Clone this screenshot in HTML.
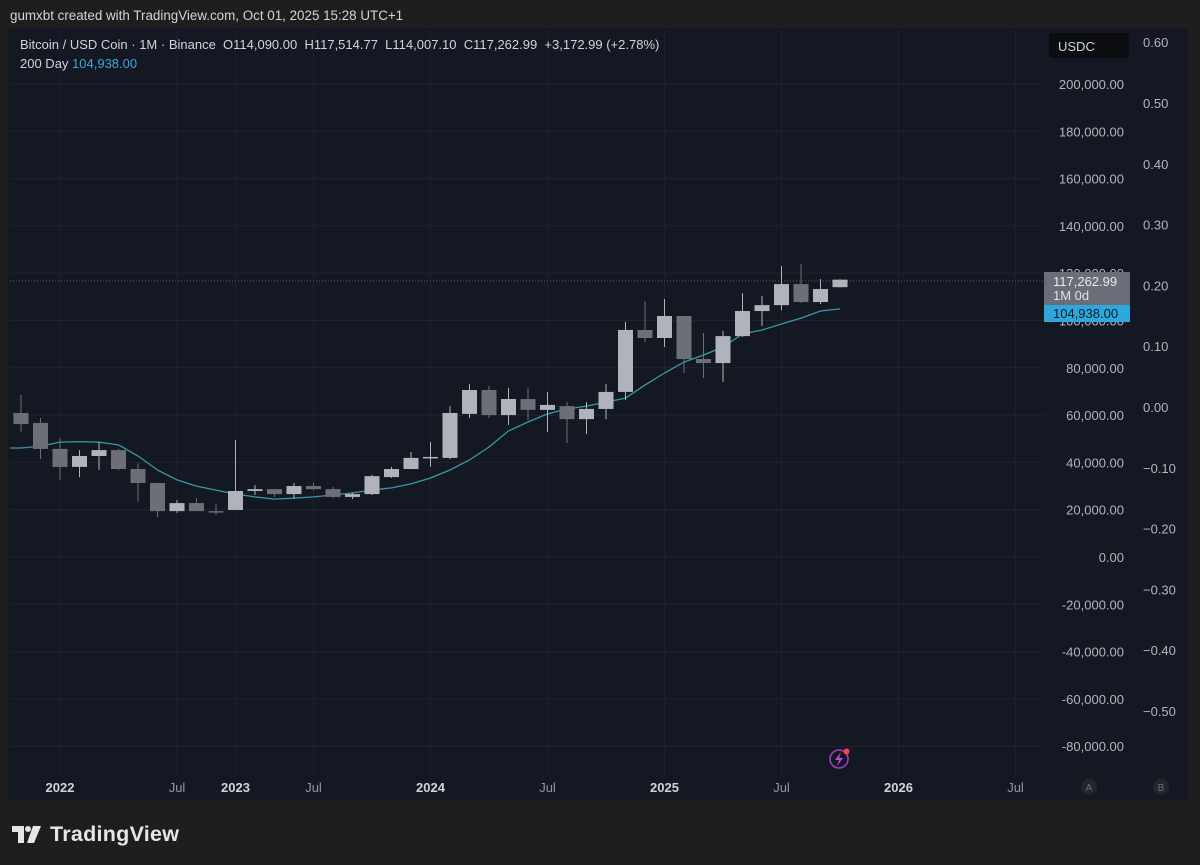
<!DOCTYPE html>
<html><head><meta charset="utf-8">
<style>
html,body{margin:0;padding:0;background:#1e1e1e;width:1200px;height:865px;overflow:hidden;font-family:"Liberation Sans",sans-serif;}
svg text{font-family:"Liberation Sans",sans-serif;}
</style></head>
<body>
<svg id="chart" width="1200" height="865" xmlns="http://www.w3.org/2000/svg">
<rect x="0" y="0" width="1200" height="865" fill="#1e1e1e"/>
<text x="10" y="20" fill="#d1d4dc" font-size="13.4">gumxbt created with TradingView.com, Oct 01, 2025 15:28 UTC+1</text>
<rect x="8" y="28" width="1180" height="772" fill="#141823"/>
<g id="grid"></g>
<line x1="10" x2="1044" y1="281" y2="281" stroke="#5d606b" stroke-dasharray="1,2"/>
<g id="ma"></g>
<g id="candles"></g>
<g id="yaxis"></g>
<g id="y2axis"></g>
<g id="xaxis"></g>
<text x="20" y="49" fill="#d1d4dc" font-size="13">Bitcoin / USD Coin · 1M · Binance&#160;&#160;O114,090.00&#160;&#160;H117,514.77&#160;&#160;L114,007.10&#160;&#160;C117,262.99&#160;&#160;+3,172.99 (+2.78%)</text>
<text x="20" y="68" fill="#d1d4dc" font-size="13">200 Day <tspan fill="#3aa6d4">104,938.00</tspan></text>
<rect x="1049" y="33" width="80" height="25" rx="3" fill="#0b0d11"/>
<text x="1058" y="51" fill="#d1d4dc" font-size="13">USDC</text>
<rect x="1044" y="272" width="86" height="33" fill="#6b6e78"/>
<text x="1053" y="286" fill="#e8e9ee" font-size="13">117,262.99</text>
<text x="1053" y="300" fill="#e0e1e6" font-size="13">1M 0d</text>
<rect x="1044" y="305" width="86" height="17" fill="#2ea7dd"/>
<text x="1053" y="318" fill="#0e1a26" font-size="13">104,938.00</text>
<g>
<circle cx="839" cy="759" r="9" fill="none" stroke="#a13fc4" stroke-width="1.6"/>
<path d="M841 752 L835 760 L839 760 L837 766 L843 758 L839 758 Z" fill="#b24fd6"/>
<circle cx="846.5" cy="751.5" r="3" fill="#f0454b"/>
</g>
<g><circle cx="1089" cy="787" r="8" fill="#22262f"/><text x="1089" y="791" fill="#6b6f7a" font-size="10" text-anchor="middle">A</text></g>
<g><circle cx="1161" cy="787" r="8" fill="#22262f"/><text x="1161" y="791" fill="#6b6f7a" font-size="10" text-anchor="middle">B</text></g>
<g>
<path d="M12 826 H24 V843 H18 V832 H12 Z" fill="#e6e6e6"/>
<circle cx="28" cy="829" r="3" fill="#e6e6e6"/>
<path d="M33 826 H41 L34 843 H27 Z" fill="#e6e6e6"/>
<text x="50" y="841" fill="#e6e6e6" font-size="21.5" font-weight="bold" textLength="129">TradingView</text>
</g>
</svg>
<script>
const months = ["Nov 2021","Dec 2021","Jan 2022","Feb 2022","Mar 2022","Apr 2022","May 2022","Jun 2022","Jul 2022","Aug 2022","Sep 2022","Mar 2023","Apr 2023","May 2023","Jun 2023","Jul 2023","Aug 2023","Sep 2023","Oct 2023","Nov 2023","Dec 2023","Jan 2024","Feb 2024","Mar 2024","Apr 2024","May 2024","Jun 2024","Jul 2024","Aug 2024","Sep 2024","Oct 2024","Nov 2024","Dec 2024","Jan 2025","Feb 2025","Mar 2025","Apr 2025","May 2025","Jun 2025","Jul 2025","Aug 2025","Sep 2025","Oct 2025"];
const opens  = [60.9,56.7,45.7,38.1,42.7,45.2,37.2,31.3,19.4,22.8,19.4,19.9,27.9,28.7,26.6,30.0,28.7,25.4,26.6,33.8,37.2,41.9,41.9,60.5,70.6,60.0,66.8,62.2,63.8,58.3,62.6,69.8,96.0,92.6,101.9,83.7,82.0,93.4,104.0,106.5,115.4,107.8,114.09];
const highs  = [68.5,58.8,50.3,45.2,48.6,45.7,39.7,31.3,24.1,24.9,22.4,49.5,30.4,28.7,31.3,31.3,29.6,27.1,34.7,38.1,44.4,48.6,63.8,73.1,72.3,71.5,71.5,69.8,65.5,65.5,73.1,99.4,108.2,109.1,101.9,94.7,95.6,111.6,110.4,123.0,123.9,117.5,117.51];
const lows   = [52.9,41.4,32.6,33.8,36.8,36.8,23.3,16.9,18.6,19.4,17.8,19.9,26.2,25.4,24.5,28.3,24.9,24.5,26.2,33.4,37.2,38.1,41.4,58.8,58.8,55.8,57.9,52.9,48.2,52.0,58.3,66.4,90.9,88.8,77.8,75.7,74.0,93.0,97.7,104.4,107.4,107.0,114.0];
const closes = [56.2,45.7,38.1,42.7,45.2,37.2,31.3,19.4,22.8,19.4,19.0,27.9,28.7,26.6,30.0,28.7,25.4,26.6,34.2,37.2,41.9,42.3,60.9,70.6,60.0,66.8,62.2,64.3,58.3,62.6,69.8,96.0,92.6,101.9,83.7,82.0,93.4,104.0,106.5,115.4,107.8,113.3,117.26];
const ma200  = [46.1,46.9,48.6,48.8,48.6,47.4,42.7,36.8,32.6,30.0,28.3,26.6,25.4,24.5,24.9,25.4,26.2,27.1,28.3,29.2,30.9,33.4,36.8,41.0,46.5,53.3,57.1,60.5,62.6,63.8,65.5,67.2,72.7,77.8,82.4,85.4,88.8,94.3,96.0,98.5,101.0,104.0,104.9];
const priceTicks = [200,180,160,140,120,100,80,60,40,20,0,-20,-40,-60,-80];
const priceTickLabels = ["200,000.00","180,000.00","160,000.00","140,000.00","120,000.00","100,000.00","80,000.00","60,000.00","40,000.00","20,000.00","0.00","-20,000.00","-40,000.00","-60,000.00","-80,000.00"];
const secTicks = [0.6,0.5,0.4,0.3,0.2,0.1,0,-0.1,-0.2,-0.3,-0.4,-0.5];
const secTickLabels = ["0.60","0.50","0.40","0.30","0.20","0.10","0.00","\u22120.10","\u22120.20","\u22120.30","\u22120.40","\u22120.50"];
const timeTickIdx = [2,8,11,15,21,27,33,39,45,51];
const timeTickLabels = ["2022","Jul","2023","Jul","2024","Jul","2025","Jul","2026","Jul"];

const NS="http://www.w3.org/2000/svg";
function yP(v){return 557-(v-0)*(557-84)/200;}
function y2(v){return 407-v*608;}
function xI(i){return 21+i*19.5;}
function mk(tag,attrs,parent){const e=document.createElementNS(NS,tag);for(const k in attrs)e.setAttribute(k,attrs[k]);parent.appendChild(e);return e;}
const grid=document.getElementById('grid'),yax=document.getElementById('yaxis'),y2ax=document.getElementById('y2axis'),xax=document.getElementById('xaxis');
priceTicks.forEach((t,k)=>{
  const ln=mk('line',{x1:10,x2:1044,y1:yP(t),y2:yP(t),stroke:'#1f2430','stroke-width':1},grid);
  
  
  const tx=mk('text',{x:1124,y:yP(t)+5,fill:'#b2b5be','font-size':13,'text-anchor':'end'},yax);
  tx.textContent=priceTickLabels[k];
  
  
});
secTicks.forEach((t,k)=>{
  const tx=mk('text',{x:1143,y:y2(t)+5,fill:'#b2b5be','font-size':13},y2ax);
  tx.textContent=secTickLabels[k];
  
  
});
timeTickIdx.forEach((ix,k)=>{
  const x=xI(ix);
  const ln=mk('line',{x1:x,x2:x,y1:30,y2:775,stroke:'#1c212c','stroke-width':1},grid);
  
  
  const yr=/^\d/.test(timeTickLabels[k]);
  const tx=mk('text',{x:(k===0?60:x),y:792,fill:yr?'#d1d4dc':'#9598a1','font-size':13,'font-weight':yr?'bold':'normal','text-anchor':'middle'},xax);
  tx.textContent=timeTickLabels[k];
  
  
});
let d='M10 '+yP(ma200[0]).toFixed(1);
ma200.forEach((v,i)=>{d+=' L'+xI(i).toFixed(1)+' '+yP(v).toFixed(1);});
const maPath=mk('path',{d:d,fill:'none',stroke:'#3a98a8','stroke-width':1.3},document.getElementById('ma'));


const cg=document.getElementById('candles');
months.forEach((m,i)=>{
  const up=closes[i]>=opens[i];
  const col=up?'#b0b3bb':'#6c6f78';
  const x=xI(i);
  const g=mk('g',{},cg);
  
  
  mk('line',{x1:x,x2:x,y1:yP(highs[i]),y2:yP(lows[i]),stroke:col,'stroke-width':1},g);
  const top=yP(Math.max(opens[i],closes[i])),bot=yP(Math.min(opens[i],closes[i]));
  mk('rect',{x:x-7.5,y:top,width:15,height:Math.max(1.5,bot-top),fill:col},g);
});
</script>
</body></html>
